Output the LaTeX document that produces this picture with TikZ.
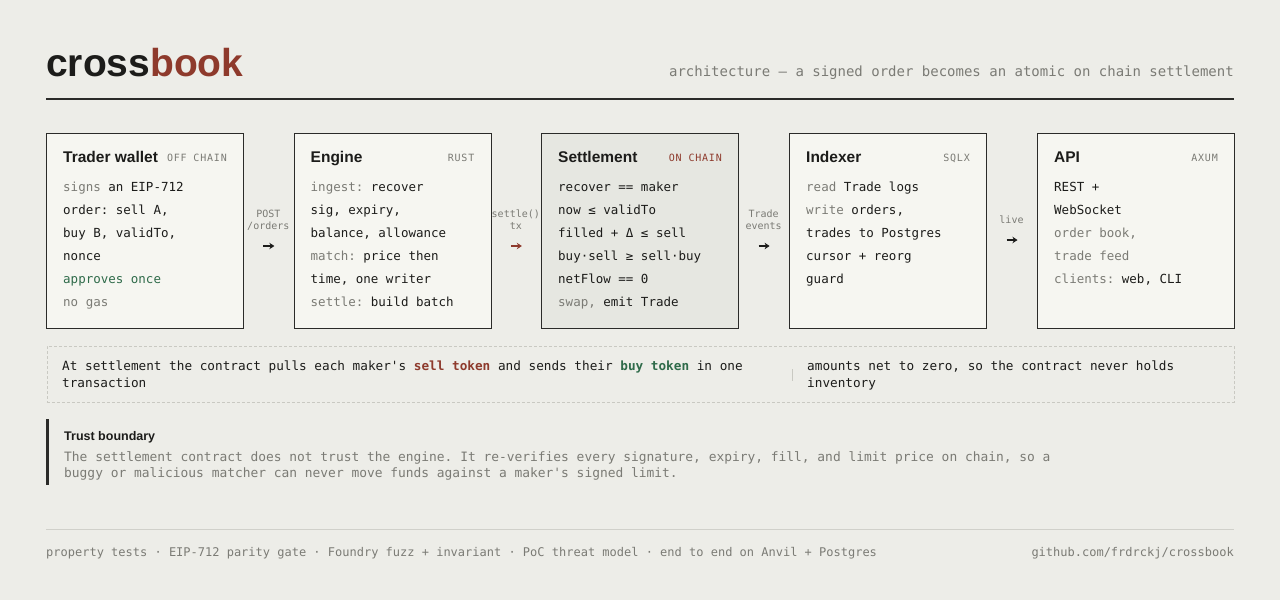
\documentclass[tikz,border=0pt]{standalone}
\usepackage{fontspec}
\setmainfont{Liberation Sans}
\newfontfamily\monof{DejaVu Sans Mono}
\newfontfamily\tagf[LetterSpace=8]{DejaVu Sans Mono}
\newfontfamily\headf{Liberation Sans}
\usetikzlibrary{arrows.meta}
\definecolor{bg}{HTML}{EDEDE8}
\definecolor{cardfill}{HTML}{F6F6F1}
\definecolor{chainfill}{HTML}{E6E7E1}
\definecolor{ink}{HTML}{1C1C1A}
\definecolor{edge}{HTML}{2B2B29}
\definecolor{mute}{HTML}{7B7B75}
\definecolor{accent}{HTML}{8E3A2C}
\definecolor{leaf}{HTML}{2F6B4A}
\definecolor{faint}{HTML}{C9C9C2}
\frenchspacing
\tikzset{
  card/.style={draw=edge, line width=1.4pt, fill=cardfill, minimum width=197, minimum height=195, anchor=north west, inner sep=0},
  boxtitle/.style={font=\headf\bfseries\fontsize{15.5}{18}\selectfont, text=ink, anchor=base west, inner sep=0},
  boxtag/.style={font=\tagf\fontsize{10}{12}\selectfont, text=mute, anchor=base east, inner sep=0},
  body/.style={font=\monof\frenchspacing\fontsize{12.5}{15}\selectfont, text=ink, anchor=base west, inner sep=0},
  clab/.style={font=\monof\fontsize{10}{12}\selectfont, text=mute, anchor=base, inner sep=0},
  flow/.style={draw=ink, line width=1.4pt, -{Stealth[length=5pt,width=6.5pt]}},
  note/.style={font=\monof\frenchspacing\fontsize{12.7}{15}\selectfont, text=ink, anchor=base west, inner sep=0},
  trust/.style={font=\monof\frenchspacing\fontsize{12.9}{15}\selectfont, text=mute, anchor=base west, inner sep=0},
  foot/.style={font=\monof\frenchspacing\fontsize{12}{14}\selectfont, text=mute, inner sep=0},
}
\newcommand{\mt}[1]{\textcolor{mute}{#1}}
\begin{document}
\begin{tikzpicture}[x=1pt,y=-1pt]
\useasboundingbox (0,0) rectangle (1280,600);
\fill[bg] (0,0) rectangle (1280,600);

% header
\node[anchor=base west, inner sep=0, font=\headf\bfseries\fontsize{39}{40}\selectfont] (logo) at (46,76) {\textcolor{ink}{cross}\textcolor{accent}{book}};
\node[anchor=base east, inner sep=0, font=\monof\fontsize{14}{16}\selectfont, text=mute] (sub) at (1234,76) {architecture — a signed order becomes an atomic on chain settlement};
\coordinate (hr1) at (46,98.5);
\coordinate (hr2) at (1234,98.5);
\draw[edge, line width=2pt] (hr1) -- (hr2);

% cards
\node[card] (wallet) at (46,133) {};
\node[card] (engine) at (293.5,133) {};
\node[card, fill=chainfill] (settle) at (541,133) {};
\node[card] (indexer) at (789,133) {};
\node[card] (api) at (1037,133) {};

% wallet
\node[boxtitle] (t1) at (63,162) {Trader wallet};
\node[boxtag] (g1) at (227,161) {OFF CHAIN};
\node[body] (w1) at (63,191.5) {\mt{signs} an EIP-712};
\node[body] (w2) at (63,214.5) {order: sell A,};
\node[body] (w3) at (63,237.5) {buy B, validTo,};
\node[body] (w4) at (63,260.5) {nonce};
\node[body, text=leaf] (w5) at (63,283.5) {approves once};
\node[body, text=mute] (w6) at (63,306.5) {no gas};

% engine
\node[boxtitle] (t2) at (310.5,162) {Engine};
\node[boxtag] (g2) at (474.5,161) {RUST};
\node[body] (e1) at (310.5,191.5) {\mt{ingest:} recover};
\node[body] (e2) at (310.5,214.5) {sig, expiry,};
\node[body] (e3) at (310.5,237.5) {balance, allowance};
\node[body] (e4) at (310.5,260.5) {\mt{match:} price then};
\node[body] (e5) at (310.5,283.5) {time, one writer};
\node[body] (e6) at (310.5,306.5) {\mt{settle:} build batch};

% settlement
\node[boxtitle] (t3) at (558,162) {Settlement};
\node[boxtag, text=accent] (g3) at (722,161) {ON CHAIN};
\node[body] (s1) at (558,191.5) {recover == maker};
\node[body] (s2) at (558,214.5) {now ≤ validTo};
\node[body] (s3) at (558,237.5) {filled + Δ ≤ sell};
\node[body] (s4) at (558,260.5) {buy·sell ≥ sell·buy};
\node[body] (s5) at (558,283.5) {netFlow == 0};
\node[body] (s6) at (558,306.5) {\mt{swap,} emit Trade};

% indexer
\node[boxtitle] (t4) at (806,162) {Indexer};
\node[boxtag] (g4) at (970,161) {SQLX};
\node[body] (i1) at (806,191.5) {\mt{read} Trade logs};
\node[body] (i2) at (806,214.5) {\mt{write} orders,};
\node[body] (i3) at (806,237.5) {trades to Postgres};
\node[body] (i4) at (806,260.5) {cursor + reorg};
\node[body] (i5) at (806,283.5) {guard};

% api
\node[boxtitle] (t5) at (1054,162) {API};
\node[boxtag] (g5) at (1218,161) {AXUM};
\node[body] (p1) at (1054,191.5) {REST +};
\node[body] (p2) at (1054,214.5) {WebSocket};
\node[body, text=mute] (p3) at (1054,237.5) {order book,};
\node[body, text=mute] (p4) at (1054,260.5) {trade feed};
\node[body] (p5) at (1054,283.5) {\mt{clients:} web, CLI};

% connector labels
\node[clab] (c1a) at (268.3,217) {POST};
\node[clab] (c1b) at (268.3,229.5) {/orders};
\node[clab] (c2a) at (515.8,217) {settle()};
\node[clab] (c2b) at (515.8,229.5) {tx};
\node[clab] (c3a) at (763.6,217) {Trade};
\node[clab] (c3b) at (763.6,229.5) {events};
\node[clab] (c4a) at (1011.5,223) {live};

% connector arrows
\coordinate (a1s) at (263.3,246); \coordinate (a1e) at (274.3,246);
\coordinate (a2s) at (510.8,246); \coordinate (a2e) at (521.8,246);
\coordinate (a3s) at (758.6,246); \coordinate (a3e) at (769.6,246);
\coordinate (a4s) at (1006.5,240); \coordinate (a4e) at (1017.5,240);
\draw[flow] (a1s) -- (a1e);
\draw[flow, draw=accent] (a2s) -- (a2e);
\draw[flow] (a3s) -- (a3e);
\draw[flow] (a4s) -- (a4e);

% note band
\node[draw=faint, dash pattern=on 3pt off 2pt, line width=0.8pt, minimum width=1187, minimum height=56, anchor=north west, inner sep=0] (band) at (46.5,346) {};
\node[note] (n1) at (62,370.5) {At settlement the contract pulls each maker's \textcolor{accent}{\bfseries sell token} and sends their \textcolor{leaf}{\bfseries buy token} in one};
\node[note] (n2) at (62,387.5) {transaction};
\coordinate (dv1) at (792,369);
\coordinate (dv2) at (792,381);
\draw[faint, line width=1pt] (dv1) -- (dv2);
\node[note] (n3) at (807,370.5) {amounts net to zero, so the contract never holds};
\node[note] (n4) at (807,387.5) {inventory};

% trust boundary
\coordinate (tb1) at (47,419);
\coordinate (tb2) at (47,485);
\draw[edge, line width=3pt] (tb1) -- (tb2);
\node[anchor=base west, inner sep=0, font=\headf\bfseries\fontsize{12.5}{14}\selectfont, text=ink] (tt) at (64,440) {Trust boundary};
\node[trust] (tr1) at (64,461) {The settlement contract does not trust the engine. It re-verifies every signature, expiry, fill, and limit price on chain, so a};
\node[trust] (tr2) at (64,477.5) {buggy or malicious matcher can never move funds against a maker's signed limit.};

% footer
\coordinate (fr1) at (46,529.5);
\coordinate (fr2) at (1234,529.5);
\draw[faint!80!bg, line width=1pt] (fr1) -- (fr2);
\node[foot, anchor=base west] (f1) at (46,556) {property tests · EIP-712 parity gate · Foundry fuzz + invariant · PoC threat model · end to end on Anvil + Postgres};
\node[foot, anchor=base east] (f2) at (1234,556) {github.com/frdrckj/crossbook};
\end{tikzpicture}
\end{document}
